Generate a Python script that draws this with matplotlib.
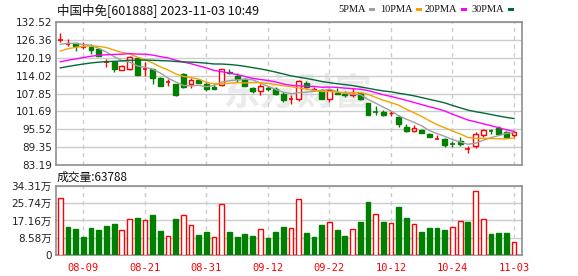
import matplotlib
matplotlib.use("Agg")
import matplotlib.pyplot as plt
import numpy as np
import pandas as pd
from matplotlib.patches import Rectangle

# ---- data -----------------------------------------------------------------
dates = ["08-04", "08-07", "08-08", "08-09", "08-10", "08-11", "08-14", "08-15",
         "08-16", "08-17", "08-18", "08-21", "08-22", "08-23", "08-24", "08-25",
         "08-28", "08-29", "08-30", "08-31", "09-01", "09-04", "09-05", "09-06",
         "09-07", "09-08", "09-11", "09-12", "09-13", "09-14", "09-15", "09-18",
         "09-19", "09-20", "09-21", "09-22", "09-25", "09-26", "09-27", "09-28",
         "10-09", "10-10", "10-11", "10-12", "10-13", "10-16", "10-17", "10-18",
         "10-19", "10-20", "10-23", "10-24", "10-25", "10-26", "10-27", "10-30",
         "10-31", "11-01", "11-02", "11-03"]

opens = [126.2, 125.0, 125.3, 123.8, 124.0, 123.2, 118.7, 118.6, 116.1, 116.2,
         120.0, 116.1, 116.2, 113.3, 111.6, 111.0, 114.5, 111.1, 112.5, 111.3,
         110.2, 110.7, 115.4, 113.9, 112.9, 109.9, 108.8, 109.8, 109.3, 107.6,
         106.0, 105.8, 111.5, 108.9, 109.0, 105.8, 108.0, 107.8, 107.3, 107.9,
         104.6, 101.4, 101.5, 101.0, 99.6, 96.3, 94.9, 95.3, 93.9, 92.0,
         92.0, 90.4, 91.4, 88.8, 89.8, 93.4, 94.9, 96.0, 94.7, 93.6]
highs = [128.6, 126.6, 125.4, 125.5, 124.8, 123.3, 119.6, 118.7, 117.6, 120.8,
         120.2, 118.6, 116.3, 113.4, 112.7, 111.1, 115.0, 113.2, 112.8, 111.8,
         111.3, 116.2, 116.2, 114.8, 113.1, 110.0, 111.3, 110.4, 110.0, 108.3,
         107.3, 112.5, 112.1, 110.0, 109.5, 109.5, 109.6, 108.8, 109.6, 108.5,
         104.7, 103.5, 102.3, 101.7, 100.6, 97.5, 96.9, 95.5, 94.2, 93.5,
         92.5, 91.5, 92.7, 89.7, 94.5, 95.6, 95.6, 96.8, 94.8, 94.8]
lows = [125.7, 124.3, 122.6, 123.2, 121.6, 120.8, 117.1, 115.1, 116.0, 116.0,
        114.2, 114.0, 111.0, 110.3, 110.5, 107.0, 109.8, 109.6, 111.4, 108.8,
        109.3, 110.4, 114.7, 111.8, 110.3, 107.9, 107.5, 108.6, 107.2, 105.0,
        104.4, 105.3, 109.6, 108.6, 105.9, 105.0, 107.6, 106.7, 106.5, 105.6,
        100.5, 100.6, 100.0, 100.0, 96.3, 94.5, 94.5, 94.3, 92.8, 92.0,
        89.3, 89.4, 89.8, 87.2, 89.2, 92.8, 93.9, 93.6, 92.4, 92.8]
closes = [126.3, 125.1, 124.3, 123.9, 122.9, 120.9, 118.8, 116.4, 117.2, 120.3,
          114.3, 116.2, 113.3, 110.5, 111.7, 107.5, 110.2, 112.5, 111.5, 109.3,
          109.5, 116.2, 114.8, 112.9, 110.5, 108.6, 110.4, 109.3, 107.6, 105.6,
          106.1, 112.1, 110.2, 109.4, 106.1, 109.0, 107.7, 107.4, 107.6, 105.8,
          100.6, 101.3, 100.4, 101.2, 97.3, 94.8, 95.8, 94.4, 93.0, 92.1,
          90.0, 90.3, 90.4, 88.9, 93.9, 95.2, 94.8, 93.8, 92.9, 94.7]
# turnover in 万手
volumes = [28.2, 13.8, 12.8, 9.0, 13.4, 12.4, 14.4, 15.4, 12.3, 17.7,
           18.4, 17.2, 19.9, 11.9, 9.3, 17.9, 19.7, 14.8, 9.9, 11.4,
           8.8, 25.4, 11.4, 9.0, 10.4, 9.4, 12.8, 8.5, 11.4, 13.9,
           13.3, 27.7, 10.9, 9.0, 14.9, 16.3, 12.4, 9.4, 12.8, 16.4,
           26.4, 20.4, 16.4, 15.9, 23.9, 18.4, 15.4, 11.4, 13.4, 13.4,
           12.4, 13.8, 16.8, 16.4, 31.6, 17.7, 10.4, 10.9, 10.9, 6.3788]
# closes of the 29 sessions before 08-04, needed to seed the moving averages
history_closes = [110.5, 111.2, 112.0, 111.6, 112.8, 113.5, 112.9, 113.4, 113.0, 114.1,
                  114.6, 115.3, 114.2, 113.8, 114.5, 115.0, 114.4, 115.6, 116.2, 117.4,
                  117.0, 119.5, 120.8, 121.2, 122.5,
                  123.0, 124.8, 125.6, 124.3]

price_ticks = [83.19, 89.35, 95.52, 101.69, 107.85, 114.02, 120.19, 126.36, 132.52]
volume_ticks = [0, 8.58, 17.16, 25.74, 34.31]
volume_tick_labels = ["0", "8.58万", "17.16万", "25.74万", "34.31万"]
date_tick_idx = [3, 11, 19, 27, 35, 43, 51, 59]
ma_windows = [5, 10, 20, 30]
ma_names = ["5PMA", "10PMA", "20PMA", "30PMA"]
ma_colors = ["#a0a0a0", "#f5a300", "#ff00ff", "#006b36"]

title_text = "中国中免[601888] 2023-11-03 10:49"
volume_title = "成交量:63788"
watermark = "东方财富"

# ---- style ------------------------------------------------------------------
UP = "#ff0000"
DOWN = "#008000"
GRID = "#cccccc"
FRAME = "#8f8f8f"
CJK = ["Noto Sans CJK SC", "DejaVu Sans"]
NUM = ["DejaVu Sans", "Noto Sans CJK SC"]

W, H = 578, 276
fig = plt.figure(figsize=(W / 100, H / 100), dpi=100)
fig.patch.set_facecolor("white")


def box(left, top, right, bottom):
    return [left / W, 1 - bottom / H, (right - left) / W, (bottom - top) / H]


axp = fig.add_axes(box(56, 22, 522, 165))
axv = fig.add_axes(box(56, 186, 522, 255))

n = len(closes)
x = np.arange(n)
xlim = (-0.56, n + 0.04)
body_w = 0.62

# ---- price panel ------------------------------------------------------------
axp.text(0.52, 0.50, watermark, transform=axp.transAxes, ha="center", va="center",
         fontsize=27, fontweight="bold", color="#ebebeb", family=CJK, zorder=0)

for i in x:
    o, h, l, c = opens[i], highs[i], lows[i], closes[i]
    col = UP if c >= o else DOWN
    axp.vlines(i, l, h, color=col, lw=1, zorder=3)
    lo, hi = min(o, c), max(o, c)
    if hi - lo < 0.2:
        axp.hlines((o + c) / 2, i - body_w / 2, i + body_w / 2, color=col, lw=1.2, zorder=4)
    else:
        face = "white" if col == UP else DOWN
        axp.add_patch(Rectangle((i - body_w / 2, lo), body_w, hi - lo,
                                facecolor=face, edgecolor=col, lw=1, zorder=4))

full = pd.Series(history_closes + closes)
for win, col in zip(ma_windows, ma_colors):
    ma = full.rolling(win).mean().iloc[len(history_closes):].to_numpy()
    axp.plot(x, ma, color=col, lw=1, zorder=5)

axp.set_xlim(*xlim)
axp.set_ylim(price_ticks[0], price_ticks[-1])
axp.set_yticks(price_ticks, [f"{v:.2f}" for v in price_ticks])
axp.set_xticks(date_tick_idx, [])

# ---- volume panel -----------------------------------------------------------
prev_close = [history_closes[-1]] + closes[:-1]
for i in x:
    up = closes[i] >= prev_close[i]
    axv.bar(i, volumes[i], width=body_w, color="white" if up else DOWN,
            edgecolor=UP if up else DOWN, lw=1, zorder=3)

axv.set_xlim(*xlim)
axv.set_ylim(volume_ticks[0], volume_ticks[-1])
axv.set_yticks(volume_ticks, volume_tick_labels)
axv.set_xticks(date_tick_idx, [dates[i] for i in date_tick_idx])
for lbl in axv.get_xticklabels():
    lbl.set_fontfamily("DejaVu Sans Mono")
    lbl.set_color(UP)
    lbl.set_fontsize(7.5)
for lbl in axv.get_yticklabels():
    lbl.set_fontfamily(NUM)

for ax in (axp, axv):
    ax.set_facecolor("white")
    ax.grid(axis="y", color=GRID, lw=1, ls="-", zorder=1)
    ax.grid(axis="x", color=GRID, lw=1, ls=(0, (3, 3)), zorder=1)
    ax.set_axisbelow(True)
    ax.tick_params(length=0, pad=3, labelsize=7.5, labelcolor="#222222")
    for sp in ax.spines.values():
        sp.set_color(FRAME)
        sp.set_linewidth(1.2)
axv.tick_params(axis="x", pad=6, labelcolor=UP)

# ---- headings and legend ----------------------------------------------------
fig.text(57 / W, 1 - 10 / H, title_text, ha="left", va="center",
         fontsize=9, family=CJK, color="#111111")
fig.text(57 / W, 1 - 177 / H, volume_title, ha="left", va="center",
         fontsize=8.5, family=CJK, color="#111111")

legend_x = [338, 380, 425, 472]
for name, col, lx in zip(ma_names, ma_colors, legend_x):
    t = fig.text(lx / W, 1 - 9 / H, name, ha="left", va="center",
                 fontsize=7.5, family="Liberation Serif", color="#111111")
    fig.canvas.draw()
    bb = t.get_window_extent()
    sx = bb.x1 + 3
    fig.add_artist(Rectangle((sx / W, (H - 11) / H), 6 / W, 3.5 / H,
                             transform=fig.transFigure, facecolor=col,
                             edgecolor="none"))

fig.savefig("out.png", dpi=100, facecolor="white")
